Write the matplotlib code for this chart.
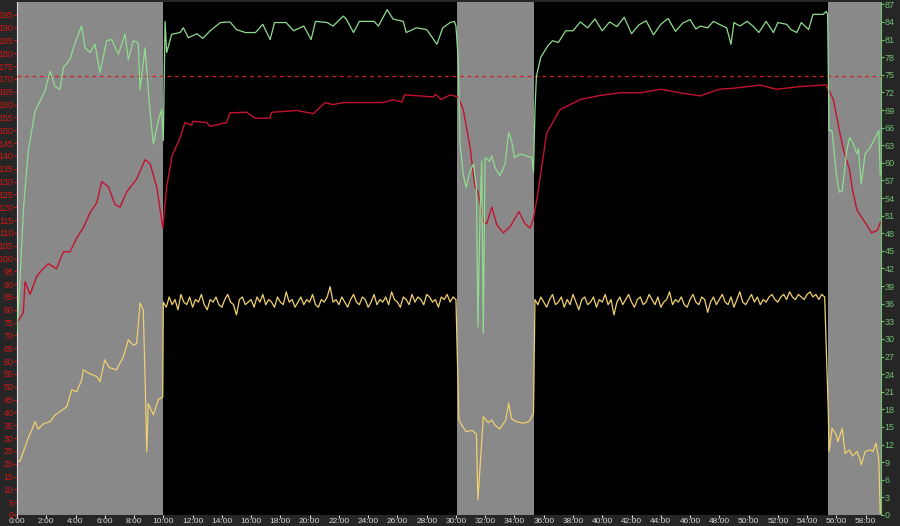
import numpy as np
import matplotlib
matplotlib.use("Agg")
import matplotlib.pyplot as plt

# ---------------- data (minutes, values) ----------------
# heart rate (left axis)
hr_t = [0.0, 0.43, 0.55, 0.89, 1.35, 1.69, 2.14, 2.7, 3.17, 3.62, 4.08, 4.53, 4.99, 5.45,
        5.79, 6.24, 6.7, 7.04, 7.5, 8.18, 8.75, 9.09, 9.55, 9.96, 10.23, 10.6, 11.14, 11.48,
        11.94, 12.0, 12.97, 13.19, 14.33, 14.56, 15.7, 16.27, 17.29, 17.4, 19.1, 20.26, 21.05,
        21.6, 22.3, 25.04, 25.7, 26.3, 26.5, 28.45, 28.6, 29.0, 29.6, 30.16, 30.5, 30.96, 31.3,
        31.5, 31.87, 32.1, 32.45, 32.8, 33.24, 33.7, 34.3, 34.7, 35.07, 35.3, 35.6, 36.2, 37.1,
        38.5, 39.8, 41.2, 42.6, 44.0, 45.3, 46.7, 48.0, 49.0, 50.8, 51.9, 53.5, 55.3, 55.8,
        56.2, 56.5, 56.9, 57.1, 57.4, 57.7, 58.2, 58.4, 58.8, 59.0]
hr_v = [75, 78.8, 91, 86, 93, 95.5, 98, 96, 102.6, 102.6, 108, 112, 117.8, 121.7,
        130, 128, 121, 120, 126, 131, 138.5, 137, 128, 112, 128, 140, 147, 153,
        152, 153.5, 153, 151.5, 153, 156.8, 157, 154.7, 154.7, 157, 157.7, 156.5, 160.8,
        160, 160.8, 160.8, 161.9, 161, 163.8, 163, 164, 162, 163.8, 163, 158, 143.6, 128,
        126, 114.4, 113.5, 120, 113, 110, 112.4, 118.3, 113.7, 111.8, 115.7, 125.5, 148.9, 158,
        162, 163.5, 164.6, 164.6, 166, 164.6, 163.4, 166, 166.4, 167.6, 166, 167, 167.7, 161.9,
        150, 142, 134.6, 126.8, 119, 116.3, 112, 110, 111, 114]

# cadence (right axis)
cad_t = [0.0, 0.2, 0.45, 0.77, 1.23, 1.57, 1.91, 2.26, 2.6, 2.94, 3.17, 3.62, 3.96, 4.42,
         4.65, 4.99, 5.33, 5.67, 6.13, 6.47, 6.93, 7.38, 7.61, 7.95, 8.29, 8.41, 8.75, 9.09,
         9.32, 9.66, 9.89, 10.0, 10.12, 10.23, 10.57, 11.14, 11.37, 11.71, 12.3, 12.7, 13.2,
         13.9, 14.56, 15.0, 15.6, 16.3, 16.8, 17.3, 17.6, 18.4, 18.9, 19.6, 20.1, 20.4, 21.2,
         21.6, 22.3, 22.5, 23.0, 23.4, 24.4, 24.7, 25.3, 25.7, 26.4, 26.6, 27.3, 28.0, 28.7,
         29.1, 29.6, 29.9, 30.0, 30.16, 30.28, 30.5, 30.7, 30.96, 31.2, 31.4, 31.5, 31.65,
         31.76, 31.87, 31.99, 32.3, 32.45, 32.67, 33.0, 33.36, 33.6, 33.8, 34.0, 34.4, 34.8,
         35.2, 35.3, 35.4, 35.5, 35.8, 36.3, 36.6, 37.0, 37.5, 38.0, 38.5, 39.0, 39.5, 40.0,
         40.5, 41.0, 41.5, 42.0, 42.5, 43.0, 43.5, 44.0, 44.5, 45.0, 45.5, 46.0, 46.4, 46.7,
         47.2, 47.6, 48.0, 48.5, 48.8, 49.0, 49.4, 49.9, 50.3, 50.7, 51.2, 51.7, 52.0, 52.6,
         52.9, 53.3, 53.6, 54.1, 54.4, 55.1, 55.3, 55.4, 55.5, 55.7, 56.0, 56.2, 56.4, 56.7,
         56.9, 57.1, 57.4, 57.5, 57.7, 57.96, 58.3, 58.65, 58.9, 59.0]
cad_v = [31.5, 40, 52.4, 62, 68.8, 70.5, 72.2, 75.6, 73, 72.5, 76.2, 77.6, 80.4, 83.3,
         79.6, 78.8, 80.2, 75.4, 80.8, 81, 78.5, 81.9, 77.6, 80.8, 80.4, 72.5, 79.6, 68.8,
         63.2, 67.2, 69.1, 63.8, 84.1, 78.8, 81.9, 82.2, 83, 81.3, 82, 81.2, 82.5,
         83.9, 84, 82.7, 82.2, 82.2, 83.6, 81, 83.9, 83.9, 82.5, 83.3, 81, 84.1, 83.9,
         83.3, 85, 84.5, 82.2, 84.1, 84.1, 83.3, 86.1, 84.5, 84.1, 82.2, 83, 82.7, 80.2,
         83, 83.9, 84.1, 83.3, 77.3, 63.2, 58, 55.8, 58.6, 59.8, 55.8, 32, 51.8,
         60.3, 30.9, 60.9, 60.3, 61.2, 59.2, 57.8, 59.8, 65.2, 63.8, 60.9, 61.5, 61.2,
         60.9, 58.4, 68.9, 74.8, 78, 80, 80.8, 80.5, 82.5, 82.5, 84, 83, 84.5, 82.5,
         84, 83.2, 84.8, 82, 83.5, 84.2, 81.8, 83.6, 84.6, 82.4, 83.8, 84.4, 82.8, 83.3,
         83, 84.1, 83.6, 83, 80.2, 83.9, 83.3, 84.1, 83.3, 82.2, 84.1, 82.2, 83.9, 83.6,
         82.7, 82.2, 83.9, 82.7, 85.3, 85.3, 85.8, 85.3, 65.5, 65.5, 58, 55, 55.2, 62,
         64.3, 63.6, 61.5, 62.4, 56.4, 61.5, 62.6, 64.3, 65.5, 58]

# power (left axis), warm-up and recovery parts
pw_warm_t = [0.0, 0.2, 0.55, 0.77, 1.0, 1.23, 1.45, 1.8, 2.26, 2.6, 2.94, 3.4, 3.74, 4.08,
             4.42, 4.53, 4.99, 5.45, 5.67, 6.0, 6.3, 6.8, 7.27, 7.61, 7.95, 8.18, 8.41, 8.63,
             8.75, 8.87, 8.97, 9.32, 9.66, 9.96]
pw_warm_v = [20.8, 21, 26.6, 30, 33, 36.4, 33.5, 35.5, 36.4, 39, 40.3, 42.2, 48.8, 48,
             52.7, 56.6, 55, 54, 52, 60.5, 57.5, 56.6, 61.7, 68.3, 66.2, 66.8, 82.6, 80,
             54, 24.7, 43.5, 39, 45, 46]
pw_int1 = [83, 81, 85, 82, 84, 80, 86, 83, 82, 85, 81, 84, 83, 86, 82, 80, 84, 83, 85, 82,
           81, 84, 86, 83, 82, 78, 84, 85, 82, 83, 84, 81, 85, 83, 86, 82, 84, 83, 81, 85,
           83, 82, 87, 83, 84, 81, 83, 85, 82, 84, 83, 86, 82, 81, 84, 83, 85, 89, 83, 84,
           82, 85, 83, 81, 84, 86, 83, 82, 85, 84, 81, 83, 86, 82, 84, 83, 85, 82, 87, 84,
           83, 81, 85, 84, 82, 86, 83, 85, 84, 82, 86, 85, 83, 84, 81, 85, 84, 86, 83, 85,
           84]
pw_rec1_t = [30.2, 30.4, 30.7, 31.1, 31.4, 31.5, 31.87, 32.2, 32.45, 32.67, 33.0, 33.4, 33.6,
             33.8, 34.1, 34.6, 35.0, 35.3]
pw_rec1_v = [37, 35, 32.5, 33, 31.5, 5.85, 38.3, 36, 37, 35, 33.5, 37, 43.6,
             37.6, 36.4, 35.8, 36.4, 39.7]
pw_int2 = [84, 82, 85, 83, 81, 84, 86, 82, 83, 85, 81, 84, 82, 86, 83, 80, 84, 85, 82, 83,
           85, 81, 84, 83, 86, 82, 84, 78, 83, 85, 82, 84, 86, 83, 81, 84, 85, 82, 83, 86,
           84, 82, 85, 81, 83, 84, 87, 82, 84, 83, 85, 82, 81, 84, 86, 83, 82, 85, 84, 79,
           83, 85, 82, 84, 86, 83, 82, 85, 81, 84, 87, 83, 82, 84, 86, 83, 85, 82, 84, 83,
           85, 86, 84, 83, 85, 86, 84, 87, 85, 84, 86, 85, 84, 86, 87, 85, 86, 84, 86, 85]
pw_rec2_t = [55.45, 55.5, 55.7, 56.0, 56.1, 56.4, 56.6, 56.9, 57.1, 57.4, 57.6, 57.7, 57.96,
             58.3, 58.5, 58.7, 58.9, 59.0]
pw_rec2_v = [39.7, 24.7, 33.8, 31.2, 28.6, 33.8, 24, 25.4, 23, 24.7, 22, 19.5, 24.7,
             25.4, 24.7, 28, 21.7, 0.7]

rest_bands = [(0, 10.0), (30.07, 35.34), (55.43, 59.1)]
hr_limit = 171

# assemble power series
pw_t = np.concatenate([pw_warm_t, 10.0 + 0.2 * np.arange(len(pw_int1)), pw_rec1_t,
                       35.4 + 0.2 * np.arange(len(pw_int2)), pw_rec2_t])
pw_v = np.concatenate([pw_warm_v, pw_int1, pw_rec1_v, pw_int2, pw_rec2_v])

#--------------------------------------------------
# figure
#--------------------------------------------------
fig = plt.figure(figsize=(9, 5.26), dpi=100, facecolor="#262626")
ax = fig.add_axes([17/900, 11/526, 864/900, 513/526])
ax.set_facecolor("black")
ax2 = ax.twinx()

for a, b in rest_bands:
    ax.axvspan(a, b, color="#898989", lw=0, zorder=0)

ax.axhline(hr_limit, color="#d02020", lw=0.9, ls=(0, (3, 3)), zorder=3)
ax.plot(pw_t, pw_v, color="#f0d070", lw=0.9, zorder=2)
ax.plot(hr_t, hr_v, color="#c41230", lw=1.0, zorder=2)
ax2.plot(cad_t, cad_v, color="#8fdc8f", lw=0.9)

ax.set_xlim(0, 59.05)
ax.set_ylim(0, 200)
ax2.set_ylim(0, 87.4)

ax.set_xticks(np.arange(0, 59, 2))
ax.set_xticklabels([f"{m}:00" for m in range(0, 59, 2)])
ax.set_yticks(np.arange(0, 200, 5))
ax2.set_yticks(np.arange(0, 88, 3))

ax.tick_params(axis="x", colors="#d8d8d8", labelsize=6, length=2, pad=0.5)
ax.tick_params(axis="y", colors="#d01818", labelsize=6.5, length=2, pad=0.5)
ax2.tick_params(axis="y", colors="#70c070", labelsize=6.5, length=2, pad=0.5)
for lab in ax.get_xticklabels() + ax.get_yticklabels() + ax2.get_yticklabels():
    lab.set_family("Liberation Sans")

for a in (ax, ax2):
    for s in a.spines.values():
        s.set_visible(False)
ax.spines["left"].set_visible(True)
ax.spines["left"].set_color("#e0e0e0")
ax2.spines["right"].set_visible(True)
ax2.spines["right"].set_color("#70c070")

fig.savefig("out.png", dpi=100, facecolor=fig.get_facecolor())
